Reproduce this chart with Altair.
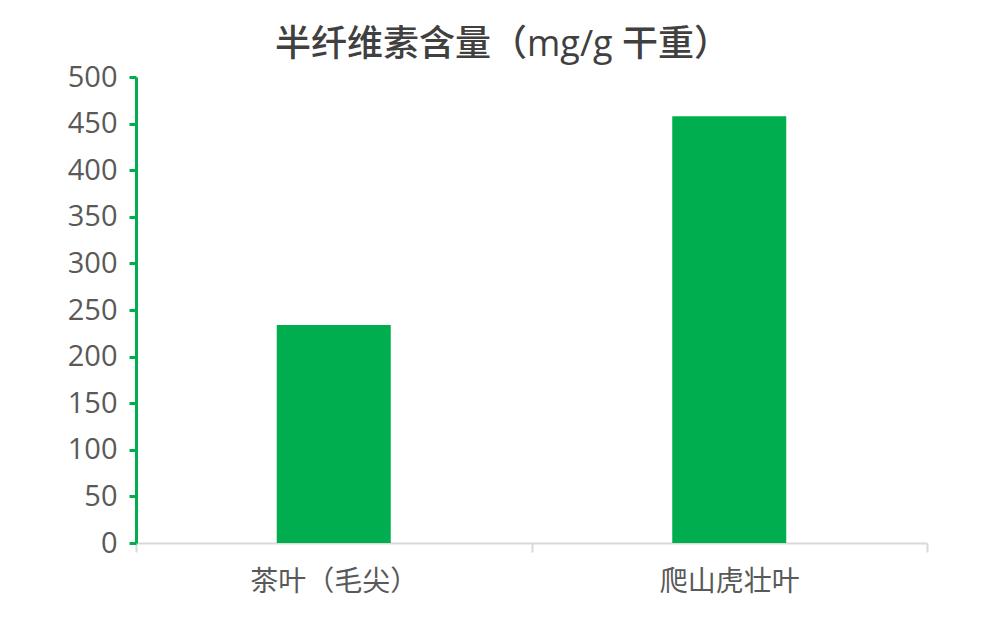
import altair as alt
import pandas as pd

categories = ["茶叶（毛尖）", "爬山虎壮叶"]
values = [234, 458]

df = pd.DataFrame({"cat": categories, "val": values})
GREEN = "#00AE4F"
FONT = "Open Sans, Noto Sans CJK SC"

chart = alt.Chart(df).mark_bar(color=GREEN, size=114).encode(
    x=alt.X("cat:N", sort=categories, title=None,
            scale=alt.Scale(paddingInner=0, paddingOuter=0),
            axis=alt.Axis(labelAngle=0, labelFontSize=28, labelColor="#595959", labelFont=FONT,
                          labelPadding=16, domainColor="#D9D9D9", domainWidth=2,
                          tickColor="#D9D9D9", tickWidth=2, tickSize=9, tickBand="extent",
                          grid=False)),
    y=alt.Y("val:Q", title=None,
            scale=alt.Scale(domain=[0, 500], nice=False),
            axis=alt.Axis(values=list(range(0, 501, 50)), labelFontSize=29, labelColor="#595959",
                          labelFont=FONT, labelPadding=12, domainColor=GREEN, domainWidth=3,
                          tickColor=GREEN, tickWidth=3, tickSize=7, grid=False)),
).properties(
    width=791, height=466,
    title=alt.TitleParams("半纤维素含量（mg/g 干重）", fontSize=36, font=FONT, fontWeight=500,
                          color="#404040", anchor="middle", dx=-29, offset=-1),
    autosize=alt.AutoSizeParams(type="none"),
    padding={"left": 128, "top": 69, "right": 66, "bottom": 69},
).configure_view(stroke=None)

chart.save("out.html", embed_options={"renderer": "svg", "actions": False})
